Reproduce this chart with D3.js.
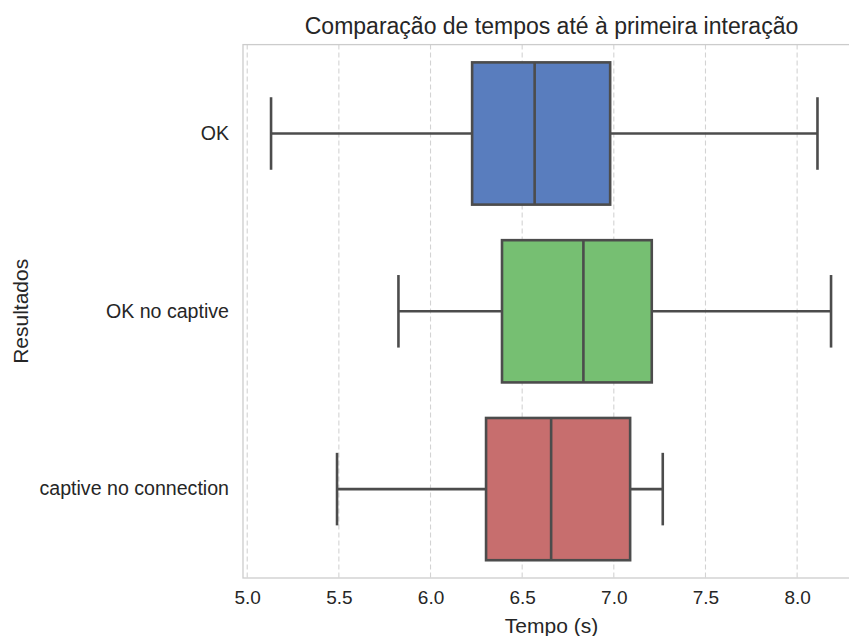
<!DOCTYPE html>
<html>
<head>
<meta charset="utf-8">
<script src="https://cdn.jsdelivr.net/npm/d3@7"></script>
<style>
  body { margin: 0; background: #ffffff; }
  text { font-family: "Liberation Sans", Arial, sans-serif; fill: #262626; }
</style>
</head>
<body>
<div id="vis"></div>
<script>
// valores
var categories = ["OK", "OK no captive", "captive no connection"];
var whiskerLow = [5.13, 5.825, 5.49];
var q1 = [6.227, 6.39, 6.303];
var median = [6.568, 6.834, 6.658];
var q3 = [6.98, 7.207, 7.089];
var whiskerHigh = [8.111, 8.185, 7.267];
var boxColors = ["#597dbe", "#76bf72", "#c76e6e"];
var xTicks = [5.0, 5.5, 6.0, 6.5, 7.0, 7.5, 8.0];

var data = categories.map((c, i) => ({
  cat: c, lo: whiskerLow[i], q1: q1[i], med: median[i], q3: q3[i], hi: whiskerHigh[i], color: boxColors[i]
}));

var w = 849;
var h = 636;
// "top" é reservado no window, por isso nomes próprios
var mLeft = 243, mRight = 860, mTop = 44.6, mBottom = 578;
var lineCol = "#4c4c4c";

var chart = d3.select("#vis")
  .append("svg")
  .attr("width", w)
  .attr("height", h)
  .style("background-color", "#ffffff");

const xScale = d3.scaleLinear()
  .domain([4.977, 8.343])
  .range([mLeft, mRight]);

const yScale = d3.scaleBand()
  .domain(categories)
  .range([mTop, mBottom])
  .padding(0);

var bw = yScale.bandwidth();
var boxH = bw * 0.8;
var capH = boxH * 0.51;

// grelha vertical tracejada
chart.append("g")
  .selectAll("line")
  .data(xTicks)
  .enter()
  .append("line")
  .attr("x1", d => xScale(d))
  .attr("x2", d => xScale(d))
  .attr("y1", mTop)
  .attr("y2", mBottom)
  .attr("stroke", "#d3d3d3")
  .attr("stroke-width", 1.1)
  .attr("stroke-dasharray", "5,3");

// molduras
chart.append("rect")
  .attr("x", mLeft).attr("y", mTop)
  .attr("width", mRight - mLeft).attr("height", mBottom - mTop)
  .attr("fill", "none")
  .attr("stroke", "#cccccc").attr("stroke-width", 1.3);

var boxes = chart.append("g")
  .selectAll("g")
  .data(data)
  .enter()
  .append("g");

var cy = d => yScale(d.cat) + bw / 2;

// bigodes
boxes.append("line")
  .attr("x1", d => xScale(d.lo)).attr("x2", d => xScale(d.q1))
  .attr("y1", cy).attr("y2", cy)
  .attr("stroke", lineCol).attr("stroke-width", 2.6);
boxes.append("line")
  .attr("x1", d => xScale(d.q3)).attr("x2", d => xScale(d.hi))
  .attr("y1", cy).attr("y2", cy)
  .attr("stroke", lineCol).attr("stroke-width", 2.6);
boxes.append("line")
  .attr("x1", d => xScale(d.lo)).attr("x2", d => xScale(d.lo))
  .attr("y1", d => cy(d) - capH / 2).attr("y2", d => cy(d) + capH / 2)
  .attr("stroke", lineCol).attr("stroke-width", 2.6);
boxes.append("line")
  .attr("x1", d => xScale(d.hi)).attr("x2", d => xScale(d.hi))
  .attr("y1", d => cy(d) - capH / 2).attr("y2", d => cy(d) + capH / 2)
  .attr("stroke", lineCol).attr("stroke-width", 2.6);

// caixas
boxes.append("rect")
  .attr("x", d => xScale(d.q1))
  .attr("width", d => xScale(d.q3) - xScale(d.q1))
  .attr("y", d => cy(d) - boxH / 2)
  .attr("height", boxH)
  .attr("fill", d => d.color)
  .attr("stroke", lineCol)
  .attr("stroke-width", 2.6);

// medianas
boxes.append("line")
  .attr("x1", d => xScale(d.med)).attr("x2", d => xScale(d.med))
  .attr("y1", d => cy(d) - boxH / 2).attr("y2", d => cy(d) + boxH / 2)
  .attr("stroke", lineCol).attr("stroke-width", 2.6);

// eixos
const xAxis = chart.append("g")
  .attr("transform", `translate(0,${mBottom})`)
  .call(d3.axisBottom(xScale).tickValues(xTicks).tickFormat(d3.format(".1f")).tickSize(0).tickPadding(13));
xAxis.select(".domain").remove();
xAxis.selectAll("text").style("font-size", "19px").attr("fill", "#262626")
  .style("font-family", "'Liberation Sans', Arial, sans-serif");

const yAxis = chart.append("g")
  .attr("transform", `translate(${mLeft},0)`)
  .call(d3.axisLeft(yScale).tickSize(0).tickPadding(14));
yAxis.select(".domain").remove();
yAxis.selectAll("text").style("font-size", "19.6px").attr("fill", "#262626")
  .style("font-family", "'Liberation Sans', Arial, sans-serif");

// títulos
chart.append("text")
  .attr("x", (mLeft + mRight) / 2)
  .attr("y", 34)
  .attr("text-anchor", "middle")
  .style("font-size", "23px")
  .text("Comparação de tempos até à primeira interação");

chart.append("text")
  .attr("x", (mLeft + mRight) / 2)
  .attr("y", 633)
  .attr("text-anchor", "middle")
  .style("font-size", "21px")
  .text("Tempo (s)");

chart.append("text")
  .attr("transform", `translate(28,${(mTop + mBottom) / 2}) rotate(-90)`)
  .attr("text-anchor", "middle")
  .style("font-size", "21px")
  .text("Resultados");
</script>
</body>
</html>
